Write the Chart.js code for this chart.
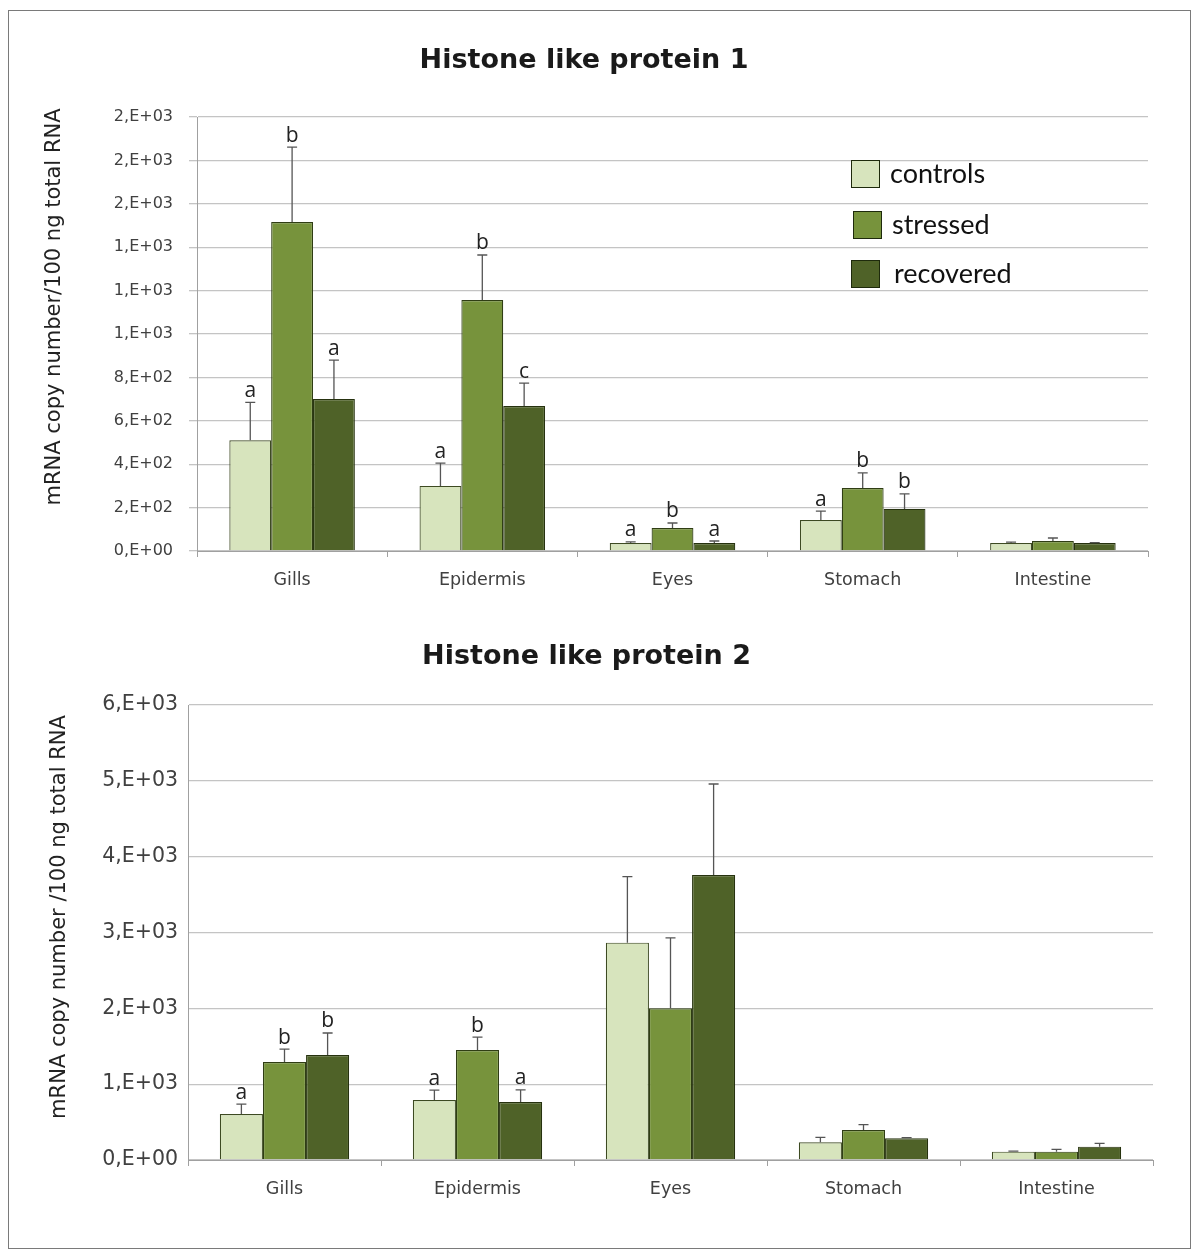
<!DOCTYPE html>
<html>
<head>
<meta charset="utf-8">
<script src="https://cdn.jsdelivr.net/npm/chart.js@4"></script>
<style>
  body { margin:0; background:#fff; width:1200px; height:1259px; position:relative; overflow:hidden; }
  #frame { position:absolute; left:8px; top:10px; width:1183px; height:1239px; border:1px solid #7a7a7a; box-sizing:border-box; }
  .box { position:absolute; }
  .lg { position:absolute; font-family:Lato, "Open Sans", sans-serif; font-size:27px; color:#111; line-height:30px; }
  .sw { position:absolute; width:27px; height:26px; border:1.5px solid #1e2a0c; }
</style>
</head>
<body>
<div id="frame"></div>
<div class="box" style="left:20px; top:30px; width:1160px; height:590px;"><canvas id="c1"></canvas></div>
<div class="box" style="left:20px; top:620px; width:1160px; height:615px;"><canvas id="c2"></canvas></div>

<div class="sw" style="left:851px; top:160px; background:#d7e4bd;"></div>
<div class="lg" style="left:890px; top:158px;">controls</div>
<div class="sw" style="left:853px; top:211px; background:#77933c;"></div>
<div class="lg" style="left:892px; top:209px;">stressed</div>
<div class="sw" style="left:851px; top:260px; background:#4f6228;"></div>
<div class="lg" style="left:894px; top:258px;">recovered</div>

<script>
// ---------- DATA ----------
const categories = ['Gills', 'Epidermis', 'Eyes', 'Stomach', 'Intestine'];
const seriesNames = ['controls', 'stressed', 'recovered'];

// Histone like protein 1
const p1Controls  = [510, 300, 37, 143, 37];
const p1Stressed  = [1516, 1157, 106, 290, 46];
const p1Recovered = [700, 668, 37, 194, 37];
const p1ControlsErr  = [175, 105, 5, 41, 4];
const p1StressedErr  = [345, 207, 23, 70, 14];
const p1RecoveredErr = [180, 106, 9, 69, 2];
const p1ControlsLetters  = ['a', 'a', 'a', 'a', ''];
const p1StressedLetters  = ['b', 'b', 'b', 'b', ''];
const p1RecoveredLetters = ['a', 'c', 'a', 'b', ''];
const p1TickLabels = ['0,E+00','2,E+02','4,E+02','6,E+02','8,E+02','1,E+03','1,E+03','1,E+03','2,E+03','2,E+03','2,E+03'];

// Histone like protein 2
const p2Controls  = [607, 791, 2866, 233, 110];
const p2Stressed  = [1292, 1451, 2000, 396, 110];
const p2Recovered = [1385, 765, 3758, 286, 176];
const p2ControlsErr  = [130, 130, 870, 66, 6];
const p2StressedErr  = [170, 170, 930, 70, 30];
const p2RecoveredErr = [290, 160, 1200, 10, 44];
const p2ControlsLetters  = ['a', 'a', '', '', ''];
const p2StressedLetters  = ['b', 'b', '', '', ''];
const p2RecoveredLetters = ['b', 'a', '', '', ''];
const p2TickLabels = ['0,E+00','1,E+03','2,E+03','3,E+03','4,E+03','5,E+03','6,E+03'];

// ---------- STYLE ----------
const fills = ['#d7e4bd', '#77933c', '#4f6228'];
const borders = ['#3d4a22', '#2f3d14', '#26320f'];

const errorBarPlugin = {
  id: 'errorBars',
  afterDatasetsDraw(chart) {
    const ctx = chart.ctx;
    const yScale = chart.scales.y;
    chart.data.datasets.forEach((ds, di) => {
      const meta = chart.getDatasetMeta(di);
      meta.data.forEach((bar, i) => {
        const v = ds.data[i];
        const e = ds.errors[i];
        const yTop = yScale.getPixelForValue(v + e);
        ctx.save();
        ctx.strokeStyle = '#555';
        ctx.lineWidth = 1.3;
        ctx.beginPath();
        ctx.moveTo(bar.x, bar.y);
        ctx.lineTo(bar.x, yTop);
        ctx.moveTo(bar.x - 5, yTop);
        ctx.lineTo(bar.x + 5, yTop);
        ctx.stroke();
        const L = ds.letters[i];
        if (L) {
          ctx.fillStyle = '#222';
          ctx.font = '21px "Open Sans", sans-serif';
          ctx.textAlign = 'center';
          ctx.textBaseline = 'bottom';
          ctx.fillText(L, bar.x, yTop - 1);
        }
        ctx.restore();
      });
    });
  }
};

const yTitlePlugin = {
  id: 'yTitle',
  afterDraw(chart, args, opts) {
    const ctx = chart.ctx;
    ctx.save();
    ctx.translate(opts.x, opts.y);
    ctx.rotate(-Math.PI / 2);
    ctx.fillStyle = '#222';
    ctx.font = opts.size + 'px "DejaVu Sans", sans-serif';
    ctx.textAlign = 'center';
    ctx.textBaseline = 'middle';
    ctx.fillText(opts.text, 0, 0);
    ctx.restore();
  }
};

function makeChart(id, title, vals, errs, letters, tickLabels, yMax, step, cfg) {
  const datasets = seriesNames.map((n, k) => ({
    label: n,
    data: vals[k],
    errors: errs[k],
    letters: letters[k],
    backgroundColor: fills[k],
    borderColor: borders[k],
    borderWidth: 1.2,
    borderSkipped: 'bottom',
    barPercentage: 1.0,
    categoryPercentage: cfg.catPct
  }));
  return new Chart(document.getElementById(id), {
    type: 'bar',
    data: { labels: categories, datasets },
    options: {
      responsive: true,
      maintainAspectRatio: false,
      animation: false,
      layout: { padding: { left: 0, right: cfg.padRight, top: 0, bottom: 0 } },
      plugins: {
        legend: { display: false },
        tooltip: { enabled: false },
        title: {
          display: true, text: title, color: '#1a1a1a',
          font: { family: '"DejaVu Sans", sans-serif', size: 27, weight: 'bold' },
          padding: { top: cfg.titleTop, bottom: cfg.titleBottom }
        },
        yTitle: { text: cfg.yTitle, x: cfg.yTitleX, y: cfg.yTitleY, size: 21 }
      },
      scales: {
        x: {
          grid: { offset: true, drawOnChartArea: false, drawTicks: true, tickLength: 6, color: '#a0a0a0' },
          border: { color: '#a0a0a0' },
          ticks: { color: '#404040', font: { family: '"DejaVu Sans", sans-serif', size: 17.5 }, padding: cfg.xPad },
          afterFit(s) { s.height = cfg.xH; }
        },
        y: {
          min: 0, max: yMax,
          grid: { color: '#c4c4c4', lineWidth: 1.3, drawTicks: cfg.yTicks, tickLength: 8 },
          border: { color: '#a0a0a0' },
          ticks: {
            stepSize: step, color: '#404040',
            font: { family: '"DejaVu Sans", sans-serif', size: cfg.yTickSize },
            padding: cfg.yPad,
            callback: (v, i) => tickLabels[i]
          },
          title: { display: false },
          afterFit(s) { s.width = cfg.yW; }
        }
      }
    },
    plugins: [errorBarPlugin, yTitlePlugin]
  });
}

makeChart('c1', 'Histone like protein 1',
  [p1Controls, p1Stressed, p1Recovered],
  [p1ControlsErr, p1StressedErr, p1RecoveredErr],
  [p1ControlsLetters, p1StressedLetters, p1RecoveredLetters],
  p1TickLabels, 2000, 200,
  { catPct: 0.66, padRight: 32, titleTop: 15, titleBottom: 39.6, xH: 69, xPad: 13, yPad: 16, yTicks: true,
    yTickSize: 16, yW: 177, yTitleX: 35, yTitleY: 277,
    yTitle: 'mRNA copy number/100 ng total RNA' });

makeChart('c2', 'Histone like protein 2',
  [p2Controls, p2Stressed, p2Recovered],
  [p2ControlsErr, p2StressedErr, p2RecoveredErr],
  [p2ControlsLetters, p2StressedLetters, p2RecoveredLetters],
  p2TickLabels, 6000, 1000,
  { catPct: 0.67, padRight: 27, titleTop: 21, titleBottom: 31.6, xH: 75, xPad: 13, yPad: 10, yTicks: false,
    yTickSize: 20.5, yW: 168, yTitleX: 40, yTitleY: 297,
    yTitle: 'mRNA copy number /100 ng total RNA' });
</script>
</body>
</html>
